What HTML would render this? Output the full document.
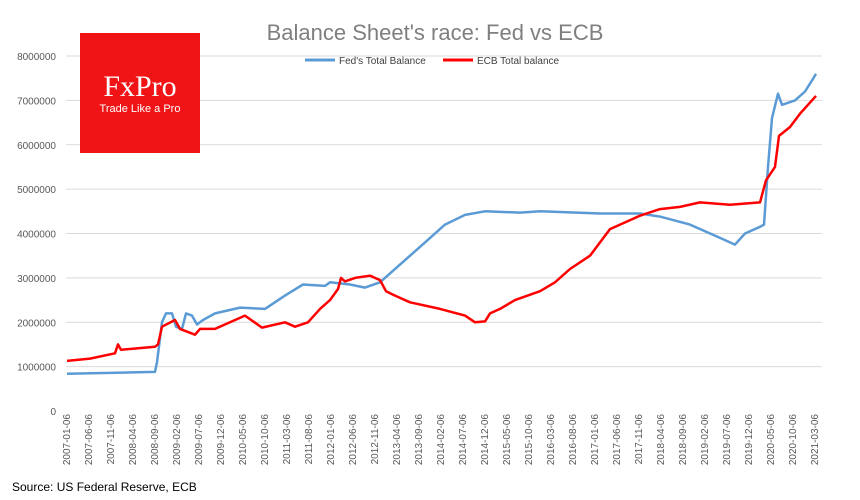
<!DOCTYPE html>
<html><head><meta charset="utf-8"><style>
body{margin:0;background:#fff;}
svg{display:block;font-family:"Liberation Sans",sans-serif;}
</style></head><body>
<svg id="s" width="860" height="500" xmlns="http://www.w3.org/2000/svg">
<rect width="860" height="500" fill="#fff"/>
<g id="grid"></g>
<text x="435" y="40" text-anchor="middle" font-size="22" fill="#7f7f7f">Balance Sheet's race: Fed vs ECB</text>
<line x1="305" y1="60" x2="335" y2="60" stroke="#5b9bd5" stroke-width="3"/>
<text x="339" y="64" font-size="10" fill="#404040">Fed's Total Balance</text>
<line x1="443" y1="60" x2="473" y2="60" stroke="#ff0000" stroke-width="3"/>
<text x="477" y="64" font-size="10" fill="#404040">ECB Total balance</text>
<g id="lbl"></g>
<polyline id="fed" fill="none" stroke="#5b9bd5" stroke-width="2.5" stroke-linejoin="round"/>
<polyline id="ecb" fill="none" stroke="#ff0000" stroke-width="2.5" stroke-linejoin="round"/>
<rect x="80" y="33" width="120" height="120" fill="#f11416"/>
<text x="140" y="96" text-anchor="middle" font-family="Liberation Serif,serif" font-size="30" fill="#fff">FxPro</text>
<text x="140" y="112" text-anchor="middle" font-size="11" fill="#fff">Trade Like a Pro</text>
<text x="12" y="491" font-size="12" fill="#000">Source: US Federal Reserve, ECB</text>
</svg>
<script>
var NS="http://www.w3.org/2000/svg";
function el(t,a,p,txt){var e=document.createElementNS(NS,t);for(var k in a)e.setAttribute(k,a[k]);if(txt!=null)e.textContent=txt;document.getElementById(p).appendChild(e);}
function Y(v){return 411-v*44.375;}
for(var i=0;i<=8;i++){var y=Y(i);
 if(i>0)el("line",{x1:66,x2:822,y1:y,y2:y,stroke:"#d9d9d9","stroke-width":1},"grid");
 el("text",{x:56,y:y+4,"text-anchor":"end","font-size":10,fill:"#595959"},"grid",i==0?"0":(i*1000000)+"");}
for(var j=0;j<=34;j++){var m=j*5,yr=2007+Math.floor(m/12),mo=m%12+1;var x=67+j*22+3;
 el("text",{transform:"translate("+x+",414) rotate(-90)","text-anchor":"end","font-size":10,fill:"#595959"},"lbl",yr+"-"+(mo<10?"0":"")+mo+"-06");}
var fed=[[67,.84],[155,.88],[157,1.1],[162,2.0],[166,2.2],[172,2.2],[176,1.9],[182,1.85],[186,2.2],[192,2.15],[197,1.95],[203,2.05],[215,2.2],[240,2.33],[265,2.3],[285,2.6],[303,2.85],[325,2.82],[330,2.9],[350,2.85],[365,2.78],[380,2.9],[400,3.3],[425,3.8],[445,4.2],[465,4.42],[485,4.5],[520,4.47],[540,4.5],[600,4.45],[640,4.45],[660,4.38],[690,4.2],[720,3.9],[735,3.75],[745,4.0],[760,4.15],[764,4.2],[768,5.5],[772,6.6],[778,7.15],[782,6.9],[795,7.0],[805,7.2],[812,7.45],[816,7.6]];
var ecb=[[67,1.13],[90,1.18],[115,1.3],[118,1.5],[121,1.38],[155,1.45],[158,1.5],[162,1.9],[175,2.05],[180,1.85],[195,1.72],[200,1.85],[215,1.85],[245,2.15],[262,1.88],[285,2.0],[295,1.9],[308,2.0],[320,2.3],[330,2.5],[338,2.75],[341,3.0],[345,2.92],[355,3.0],[370,3.05],[380,2.95],[386,2.7],[395,2.6],[410,2.45],[440,2.3],[465,2.15],[475,2.0],[485,2.02],[490,2.2],[500,2.3],[515,2.5],[540,2.7],[555,2.9],[570,3.2],[590,3.5],[600,3.8],[610,4.1],[620,4.2],[640,4.4],[660,4.55],[680,4.6],[700,4.7],[730,4.65],[760,4.7],[766,5.2],[775,5.5],[779,6.2],[790,6.4],[800,6.7],[810,6.95],[816,7.1]];
function pts(a){return a.map(function(p){return p[0]+","+Y(p[1]).toFixed(1)}).join(" ");}
document.getElementById("fed").setAttribute("points",pts(fed));
document.getElementById("ecb").setAttribute("points",pts(ecb));
</script>
</body></html>
